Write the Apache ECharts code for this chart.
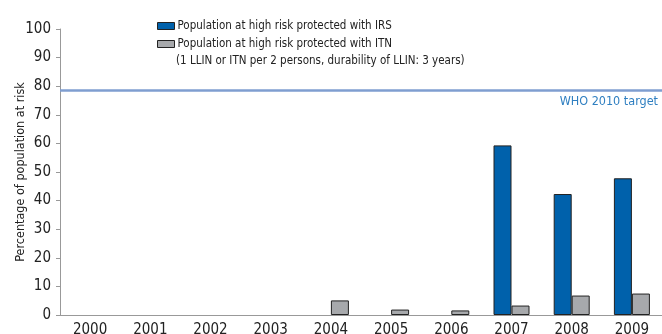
<!DOCTYPE html>
<html>
<head>
<meta charset="utf-8">
<script src="https://cdn.jsdelivr.net/npm/echarts@6/dist/echarts.min.js"></script>
<style>
  html, body { margin: 0; padding: 0; background: #fff; }
  #chart { width: 662px; height: 334px; }
</style>
</head>
<body>
<div id="chart"></div>
<script>
var years = ['2000', '2001', '2002', '2003', '2004', '2005', '2006', '2007', '2008', '2009'];
var irs = ['-', '-', '-', '-', '-', '-', '-', 59.3, 42.3, 47.8];
var itn = ['-', '-', '-', '-', 5.1, 1.9, 1.6, 3.3, 6.8, 7.5];
var target = 78.5;
var irsName = 'Population at high risk protected with IRS';
var itnName = 'Population at high risk protected with ITN';
var itnNote = '(1 LLIN or ITN per 2 persons, durability of LLIN: 3 years)';

var font = '"DejaVu Sans Condensed", "Liberation Sans Narrow", sans-serif';
var chart = echarts.init(document.getElementById('chart'));
var option = {
    animation: false,
    textStyle: { fontFamily: font },
    grid: { left: 60, right: 0, top: 29, bottom: 19, containLabel: false, outerBoundsMode: 'none' },
    legend: {
        orient: 'vertical',
        left: 157,
        top: 20,
        padding: 0,
        icon: 'rect',
        itemWidth: 17,
        itemHeight: 7,
        itemGap: 6,
        textStyle: { fontFamily: font, fontSize: 11.5, color: '#222', padding: [0, 0, 0, -2] },
        data: [
            { name: irsName, itemStyle: { borderColor: '#222', borderWidth: 1 } },
            { name: itnName, itemStyle: { borderColor: '#222', borderWidth: 1 } }
        ]
    },
    graphic: [{
        type: 'text',
        left: 176,
        top: 55,
        style: { text: itnNote, font: '11.5px ' + font, fill: '#222' }
    }],
    xAxis: {
        type: 'category',
        data: years,
        axisLine: { lineStyle: { color: '#999' } },
        axisTick: { length: 4, lineStyle: { color: '#999' } },
        axisLabel: { fontFamily: font, fontSize: 15, color: '#222', margin: 8 }
    },
    yAxis: {
        type: 'value',
        min: 0,
        max: 100,
        interval: 10,
        name: 'Percentage of population at risk',
        nameLocation: 'middle',
        nameGap: 33,
        nameMoveOverlap: false,
        nameTextStyle: { fontFamily: font, fontSize: 12.5, color: '#222' },
        axisLine: { show: true, lineStyle: { color: '#999' } },
        axisTick: { show: true, length: 4, lineStyle: { color: '#999' } },
        axisLabel: { fontFamily: font, fontSize: 15, color: '#222', margin: 9 },
        splitLine: { show: false }
    },
    series: [
        {
            name: irsName,
            type: 'bar',
            data: irs,
            barWidth: 18,
            barGap: '0%',
            itemStyle: { color: '#0061ab', borderColor: '#222', borderWidth: 1 },
            markLine: {
                silent: true,
                symbol: 'none',
                lineStyle: { color: '#7f9ed0', width: 2.5, type: 'solid' },
                label: {
                    position: 'insideEndBottom',
                    formatter: 'WHO 2010 target',
                    fontFamily: font,
                    fontSize: 12.5,
                    color: '#2f7fc1',
                    distance: [4, 5]
                },
                data: [{ yAxis: target }]
            }
        },
        {
            name: itnName,
            type: 'bar',
            data: itn,
            barWidth: 18,
            barGap: '0%',
            itemStyle: { color: '#a7a9ac', borderColor: '#222', borderWidth: 1 }
        }
    ]
};
chart.setOption(option);
</script>
</body>
</html>
